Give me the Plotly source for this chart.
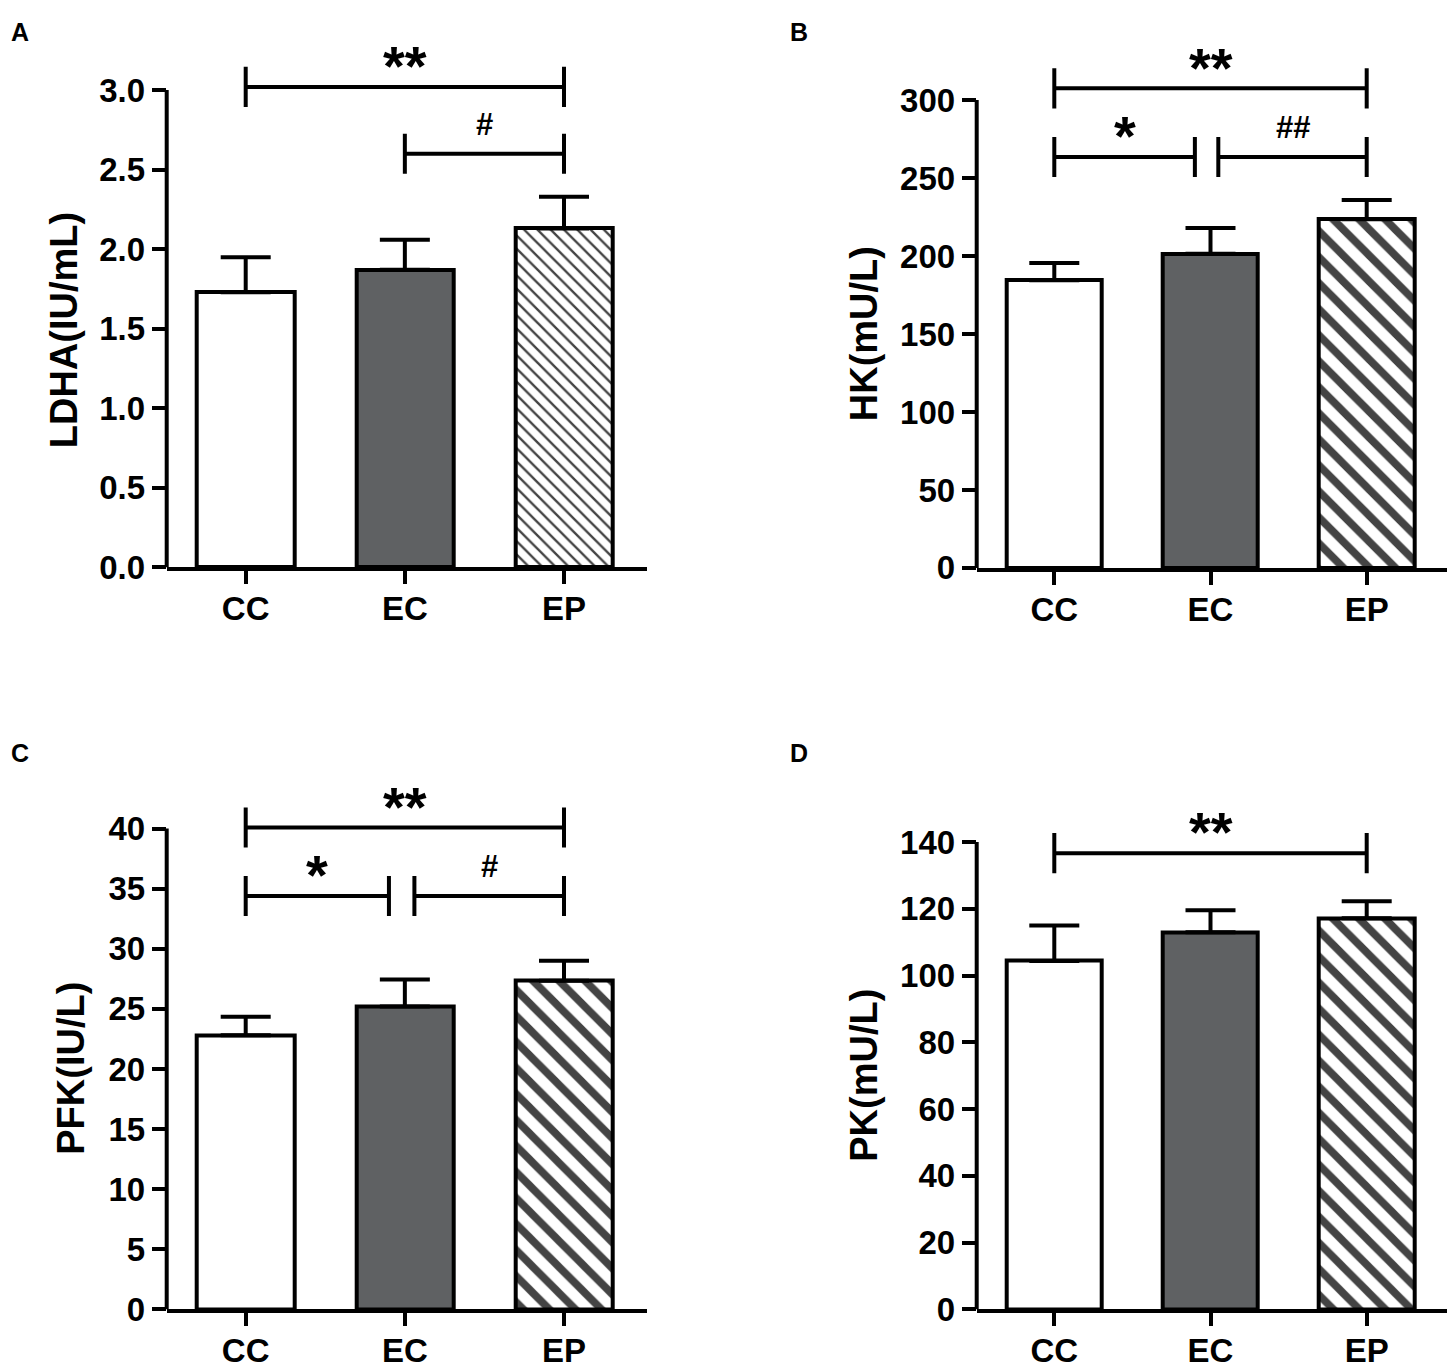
import plotly.graph_objects as go

# page size (px). The capture is squeezed to 1371 tall from a slightly taller
# viewport, so the figure is laid out on that taller page.
W, REF_H = 1454, 1371
H = 1391
KY = H / REF_H

# ---- data ----
categories = ["CC", "EC", "EP"]

ldha_mean = [1.73, 1.87, 2.13]
ldha_sem = [0.22, 0.19, 0.20]

hk_mean = [184.5, 201.5, 223.5]
hk_sem = [11.0, 16.5, 12.5]

pfk_mean = [22.8, 25.2, 27.35]
pfk_sem = [1.55, 2.25, 1.65]

pk_mean = [104.4, 113.0, 117.2]
pk_sem = [10.6, 6.6, 5.1]

ldha_ticks = [0.0, 0.5, 1.0, 1.5, 2.0, 2.5, 3.0]
ldha_ticktext = ["0.0", "0.5", "1.0", "1.5", "2.0", "2.5", "3.0"]
hk_ticks = [0, 50, 100, 150, 200, 250, 300]
pfk_ticks = [0, 5, 10, 15, 20, 25, 30, 35, 40]
pk_ticks = [0, 20, 40, 60, 80, 100, 120, 140]

# significance brackets: (from, to, height, label)
ldha_sig = [(0, 2, 3.02, "**"), (1, 2, 2.6, "#")]
hk_sig = [(0, 2, 307.5, "**"), (0, 0.9, 263.5, "*"), (1.05, 2, 263.5, "##")]
pfk_sig = [(0, 2, 40.1, "**"), (0, 0.9, 34.4, "*"), (1.06, 2, 34.4, "#")]
pk_sig = [(0, 2, 136.7, "**")]

# ---- layout of the four panels, in reference pixels ----
panels = [
    dict(letter="A", title="LDHA(IU/mL)", mean=ldha_mean, sem=ldha_sem,
         ticks=ldha_ticks, ticktext=ldha_ticktext, sig=ldha_sig,
         left=166.7, right=647, cc=245.7, ep=564, zero=567, tickpx=90, top=45,
         hatch=9.4, solid=0.25, tpos=(64, 330), lpos=(20, 32)),
    dict(letter="B", title="HK(mU/L)", mean=hk_mean, sem=hk_sem,
         ticks=hk_ticks, ticktext=[str(t) for t in hk_ticks], sig=hk_sig,
         left=976.7, right=1447, cc=1054.3, ep=1366.7, zero=567.5, tickpx=100, top=45,
         hatch=18.4, solid=0.42, tpos=(864, 334), lpos=(799, 32)),
    dict(letter="C", title="PFK(IU/L)", mean=pfk_mean, sem=pfk_sem,
         ticks=pfk_ticks, ticktext=[str(t) for t in pfk_ticks], sig=pfk_sig,
         left=166.7, right=647, cc=245.7, ep=564, zero=1308.5, tickpx=828, top=770,
         hatch=18.4, solid=0.42, tpos=(71, 1068), lpos=(20, 752)),
    dict(letter="D", title="PK(mU/L)", mean=pk_mean, sem=pk_sem,
         ticks=pk_ticks, ticktext=[str(t) for t in pk_ticks], sig=pk_sig,
         left=976.7, right=1447, cc=1054.3, ep=1366.7, zero=1308.5, tickpx=841.5, top=770,
         hatch=18.4, solid=0.42, tpos=(864, 1075), lpos=(799, 752)),
]

FONT = "Liberation Sans, Arial, sans-serif"
GREY = "#5f6163"


def py(v):
    # reference y pixel -> paper fraction
    return 1 - v / REF_H


fig = go.Figure()
shapes = []
annotations = []
layout_axes = {}

for i, p in enumerate(panels, start=1):
    sfx = "" if i == 1 else str(i)
    xa, ya = "x" + sfx, "y" + sfx

    sp = (p["ep"] - p["cc"]) / 2.0
    xr = [(p["left"] - p["cc"]) / sp, (p["right"] - p["cc"]) / sp]
    ymax = p["ticks"][-1]
    upp = ymax / (p["zero"] - p["tickpx"])  # data units per reference pixel
    yr = [0, (p["zero"] - p["top"]) * upp]

    fig.add_trace(go.Bar(
        x=[0, 1, 2], y=p["mean"], width=0.61,
        xaxis=xa, yaxis=ya,
        marker=dict(
            color=["white", GREY, "white"],
            line=dict(color="black", width=4),
            pattern=dict(shape=["", "", "\\"], fgcolor="black", fgopacity=1,
                         fillmode="overlay", size=p["hatch"], solidity=p["solid"]),
        ),
        error_y=dict(type="data", symmetric=False, array=p["sem"],
                     arrayminus=[0, 0, 0], color="black", thickness=4, width=25),
        showlegend=False, hoverinfo="skip",
    ))

    # significance brackets
    half = 20 * upp
    for x0, x1, yb, lab in p["sig"]:
        fig.add_trace(go.Scatter(
            x=[x0, x0, None, x0, x1, None, x1, x1],
            y=[yb - half, yb + half, None, yb, yb, None, yb - half, yb + half],
            mode="lines", line=dict(color="black", width=4),
            xaxis=xa, yaxis=ya, showlegend=False, hoverinfo="skip",
        ))
        star = "*" in lab
        annotations.append(dict(
            x=(x0 + x1) / 2, y=yb, xref=xa, yref=ya, text=lab, showarrow=False,
            yanchor="middle", yshift=(21 if star else 29) * KY,
            font=dict(family=FONT, size=56 if star else 31, color="black",
                      weight="bold"),
        ))

    # y axis line only up to the top tick
    shapes.append(dict(type="line", xref=xa + " domain", yref=ya,
                       x0=0, x1=0, y0=0, y1=ymax,
                       line=dict(color="black", width=4)))

    layout_axes["xaxis" + sfx] = dict(
        domain=[p["left"] / W, p["right"] / W], range=xr, anchor=ya,
        showline=True, linewidth=4, linecolor="black",
        ticks="outside", ticklen=13, tickwidth=4, tickcolor="black",
        tickvals=[0, 1, 2], ticktext=categories, ticklabelstandoff=-4,
        tickfont=dict(family=FONT, size=33, color="black", weight="bold"),
        showgrid=False, zeroline=False, fixedrange=True,
    )
    layout_axes["yaxis" + sfx] = dict(
        domain=[py(p["zero"]), py(p["top"])], range=yr, anchor=xa,
        showline=False, ticks="outside", ticklen=14, tickwidth=4, tickcolor="black",
        tickvals=p["ticks"], ticktext=p["ticktext"],
        tickfont=dict(family=FONT, size=33, color="black", weight="bold"),
        showgrid=False, zeroline=False, fixedrange=True,
    )

    annotations.append(dict(
        x=p["tpos"][0] / W, y=py(p["tpos"][1]), xref="paper", yref="paper",
        text=p["title"], textangle=-90, showarrow=False,
        xanchor="center", yanchor="middle",
        font=dict(family=FONT, size=38, color="black", weight="bold"),
    ))
    annotations.append(dict(
        x=p["lpos"][0] / W, y=py(p["lpos"][1]), xref="paper", yref="paper",
        text=p["letter"], showarrow=False, xanchor="center", yanchor="middle",
        font=dict(family=FONT, size=25, color="black", weight="bold"),
    ))

fig.update_layout(
    width=W, height=H,
    margin=dict(l=0, r=0, t=0, b=0),
    paper_bgcolor="white", plot_bgcolor="white",
    shapes=shapes, annotations=annotations,
    bargap=0,
    **layout_axes,
)

# page at (0, 0) with nothing spilling past the figure
page_fix = (
    "document.documentElement.style.overflow='hidden';"
    "document.body.style.margin='0';"
    "document.body.style.overflow='hidden';"
)
fig.write_html("out.html", config={"displayModeBar": False}, post_script=page_fix)
